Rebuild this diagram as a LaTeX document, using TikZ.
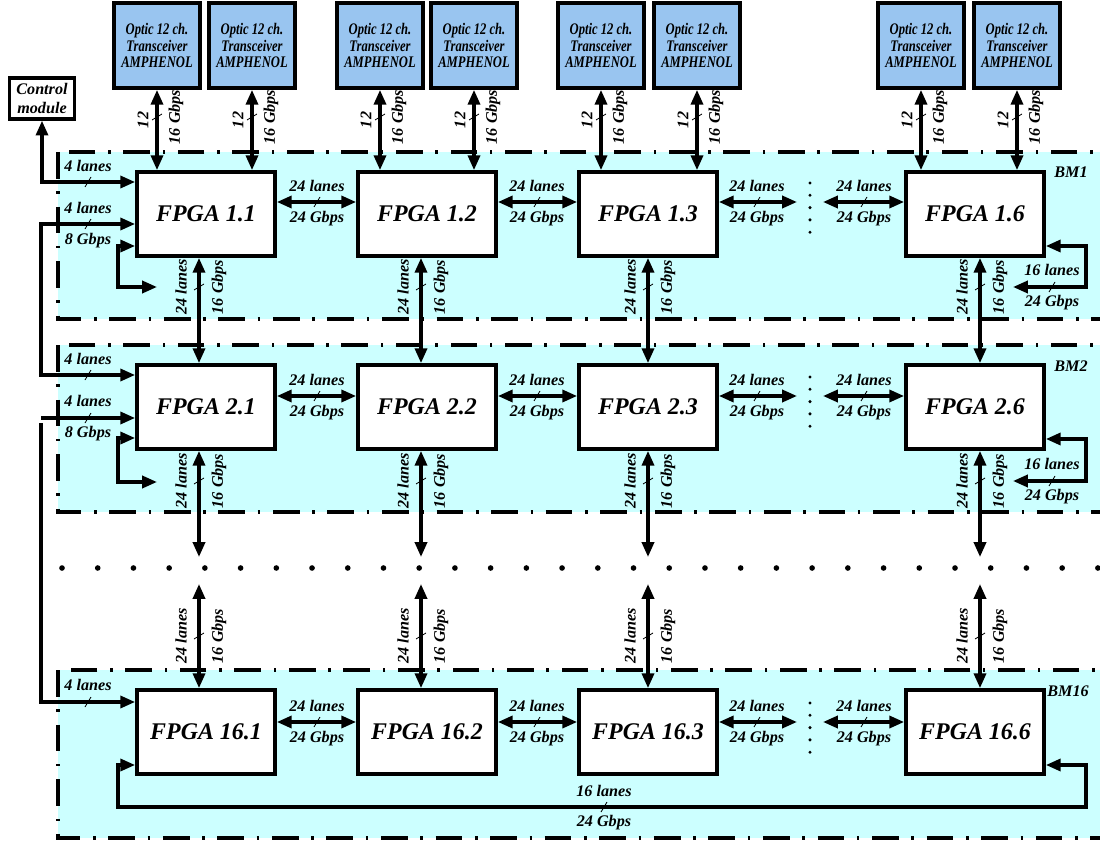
\documentclass[tikz,border=0pt]{standalone}
\usepackage{fontspec}
\setmainfont{Liberation Serif}
\newfontfamily\narrowserif[FakeStretch=0.78]{Liberation Serif}
\usetikzlibrary{arrows.meta}
\definecolor{bmcyan}{RGB}{204,255,255}
\definecolor{opticblue}{RGB}{153,197,240}
\begin{document}
\begin{tikzpicture}[x=0.025cm, y=-0.025cm,
      >={Triangle[length=10.5pt,width=8.5pt]},
      every node/.style={font=\bfseries\itshape},
      fpga/.style={draw, line width=2.6pt, fill=white, inner sep=0pt,
        minimum width=3.45cm, minimum height=2.1cm, font=\fontsize{17}{20}\selectfont\bfseries\itshape},
      optic/.style={draw, line width=2.6pt, fill=opticblue, align=center, inner sep=0pt,
        minimum width=2.15cm, minimum height=2.125cm, font=\narrowserif\fontsize{11.5}{12}\selectfont\bfseries\itshape},
      ctrl/.style={draw, line width=2.4pt, fill=white, align=center, inner sep=0pt,
        minimum width=1.625cm, minimum height=1.025cm, font=\fontsize{11.5}{14}\selectfont\bfseries\itshape},
      bm/.style={fill=bmcyan, line width=2.5pt, dash pattern=on 19pt off 9pt on 1.8pt off 9pt},
      lbl/.style={inner sep=0pt, font=\fontsize{11.5}{13}\selectfont\bfseries\itshape},
      link/.style={<->, line width=2.4pt},
      wire/.style={->, line width=2.4pt},
      tick/.style={line width=0.6pt},
      dot/.style={circle, fill=black, inner sep=0pt, minimum size=4pt},
      sep/.style={circle, fill=black, inner sep=0pt, minimum size=2.4pt},
    ]
    \useasboundingbox (0,0) rectangle (1100,841);
    \clip (0,0) rectangle (1100,841);

    \draw[bm] (58,152) rectangle (1110,319);
    \draw[bm] (58,345) rectangle (1110,512);
    \draw[bm] (58,670) rectangle (1110,838);
    \node[lbl] (bm1) at (1071,172) {BM1};
    \node[lbl] (bm2) at (1071,366) {BM2};
    \node[lbl] (bm16) at (1068,691) {BM16};

    \node[ctrl] (ctl) at (42,98.5) {Control\\module};

    \foreach \r/\y/\n in {1/214/1, 2/407/2, 3/732/16}
      \foreach \c/\x/\m in {1/206/1, 2/427/2, 3/648/3, 4/975/6}
        \node[fpga] (f\r\c) at (\x,\y) {FPGA \n.\m};

    \foreach \k/\x/\f in {1/157/f11, 2/252/f11, 3/380/f12, 4/474/f12,
                          5/601/f13, 6/697/f13, 7/921/f14, 8/1017/f14} {
      \node[optic] (o\k) at (\x,45.5) {Optic 12 ch.\\Transceiver\\AMPHENOL};
      \draw[link] (o\k.south) -- (o\k.south |- \f.north);
      \node[lbl, rotate=90] (ol\k) at (\x-14,120) {12};
      \node[lbl, rotate=90] (or\k) at (\x+19,117) {16 Gbps};
      \draw[tick] (\x-5,120) -- (\x+5,114);
    }

    \foreach \r/\y in {1/202, 2/396, 3/722} {
      \coordinate (ea\r) at (797,\y);
      \coordinate (eb\r) at (823,\y);
      \draw[link] (f\r1.east |- 0,\y) -- (f\r2.west |- 0,\y);
      \draw[link] (f\r2.east |- 0,\y) -- (f\r3.west |- 0,\y);
      \draw[link] (f\r3.east |- 0,\y) -- (ea\r);
      \draw[link] (eb\r) -- (f\r4.west |- 0,\y);
      \foreach \k/\x in {a/317, b/537, c/757, d/864} {
        \node[lbl] (hu\r\k) at (\x,\y-16) {24 lanes};
        \node[lbl] (hd\r\k) at (\x,\y+17) {24 Gbps};
        \draw[tick] (\x-3,\y+5) -- (\x+3,\y-5);
      }
      \foreach \i in {0,...,4}
        \node[sep] (sp\r\i) at (810,\y-19+12.3*\i) {};
    }

    \foreach \i in {0,...,29}
      \node[dot] (row\i) at (62+35.72*\i,568) {};

    \foreach \c/\x in {1/199, 2/421, 3/648, 4/980} {
      \coordinate (da\c) at (\x,557);
      \coordinate (db\c) at (\x,584);
      \draw[link] (f1\c.south -| da\c) -- (f2\c.north -| da\c);
      \draw[link] (f2\c.south -| da\c) -- (da\c);
      \draw[link] (db\c) -- (f3\c.north -| db\c);
      \foreach \j/\yc in {a/287, b/481, c/636} {
        \node[lbl, rotate=90] (vl\c\j) at (\x-18,\yc) {24 lanes};
        \node[lbl, rotate=90] (vr\c\j) at (\x+20,\yc) {16 Gbps};
        \draw[tick] (\x-5,\yc+3) -- (\x+5,\yc-3);
      }
    }

    \coordinate (inb) at (41,418);
    \coordinate (inc) at (41,423);
    \draw[link] (ctl.south) |- (f11.west |- 0,182);
    \draw[link] (f11.west |- 0,224) -| (41,375) -- (f21.west |- 0,375);
    \draw[wire] (inb) -- (f21.west |- 0,418);
    \draw[wire] (inc) |- (f31.west |- 0,702);
    \node[lbl] (in1a) at (88,166) {4 lanes};
    \node[lbl] (in1b) at (88,208) {4 lanes};
    \node[lbl] (in1c) at (88,241) {8 Gbps};
    \node[lbl] (in2a) at (88,359) {4 lanes};
    \node[lbl] (in2b) at (88,401) {4 lanes};
    \node[lbl] (in2c) at (88,434) {8 Gbps};
    \node[lbl] (in3a) at (88,685) {4 lanes};
    \foreach \y in {182, 224, 375, 418, 702}
      \draw[tick] (85,\y+5) -- (91,\y-5);

    \draw[link] (f11.west |- 0,246) -| (118,287) -- (157,287);
    \draw[link] (f21.west |- 0,438) -| (118,482) -- (157,482);

    \foreach \r/\ya/\yb in {1/246/287, 2/439/481} {
      \coordinate (lt\r) at (1013,\yb);
      \draw[link] (f\r4.east |- 0,\ya) -| (1086,\yb) -- (lt\r);
      \node[lbl] (lpa\r) at (1052,\yb-17) {16 lanes};
      \node[lbl] (lpb\r) at (1052,\yb+16) {24 Gbps};
      \draw[tick] (1049,\yb+5) -- (1055,\yb-5);
    }

    \draw[link] (f31.west |- 0,765) -| (118,807) -| (1086,765) -- (f34.east |- 0,765);
    \node[lbl] (lpa3) at (604,791) {16 lanes};
    \node[lbl] (lpb3) at (604,823) {24 Gbps};
    \draw[tick] (601,812) -- (607,802);
  \end{tikzpicture}
\end{document}
